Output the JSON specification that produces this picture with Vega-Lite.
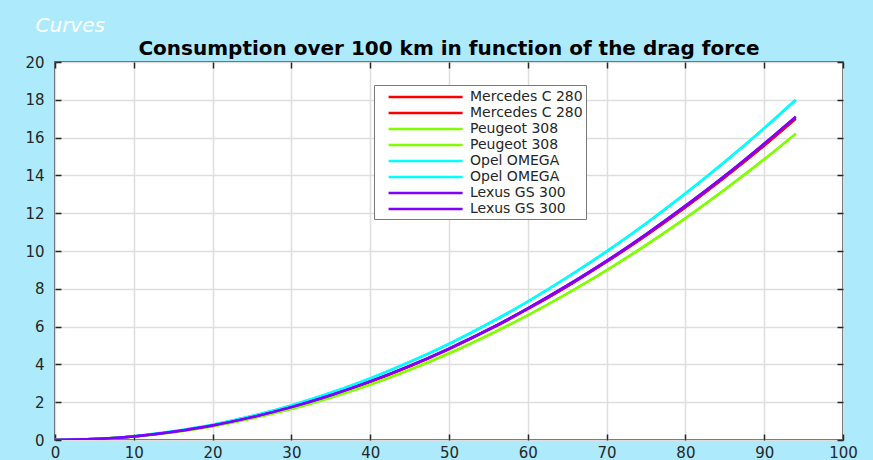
{
  "$schema": "https://vega.github.io/schema/vega-lite/v6.json",
  "width": 788,
  "height": 378,
  "autosize": {"type": "none"},
  "padding": {"left": 55, "top": 62, "right": 30, "bottom": 20},
  "background": "#ADEBFC",
  "title": {
    "text": "Consumption over 100 km in function of the drag force",
    "anchor": "middle",
    "font": "DejaVu Sans",
    "fontSize": 20,
    "fontWeight": "bold",
    "color": "#000000",
    "offset": -44
  },
  "config": {
    "view": {"fill": "#FFFFFF", "stroke": "#262626", "strokeWidth": 1.5},
    "axis": {
      "labelFont": "DejaVu Sans",
      "labelFontSize": 15,
      "labelColor": "#262626",
      "labelFlush": false,
      "domain": false,
      "tickColor": "#262626",
      "tickWidth": 1.5,
      "tickSize": -6,
      "gridColor": "#DEDEDE",
      "gridWidth": 1.5
    }
  },
  "data": {
    "values": [
      {"x": 0, "M1": 0, "M2": 0, "P1": 0, "P2": 0, "O1": 0, "O2": 0, "L1": 0, "L2": 0},
      {"x": 5, "M1": 0.05, "M2": 0.05, "P1": 0.05, "P2": 0.05, "O1": 0.05, "O2": 0.05, "L1": 0.05, "L2": 0.05},
      {"x": 10, "M1": 0.19, "M2": 0.19, "P1": 0.18, "P2": 0.18, "O1": 0.2, "O2": 0.2, "L1": 0.19, "L2": 0.19},
      {"x": 15, "M1": 0.43, "M2": 0.43, "P1": 0.41, "P2": 0.41, "O1": 0.46, "O2": 0.46, "L1": 0.44, "L2": 0.44},
      {"x": 20, "M1": 0.77, "M2": 0.77, "P1": 0.73, "P2": 0.73, "O1": 0.81, "O2": 0.81, "L1": 0.77, "L2": 0.77},
      {"x": 25, "M1": 1.2, "M2": 1.2, "P1": 1.15, "P2": 1.15, "O1": 1.27, "O2": 1.27, "L1": 1.21, "L2": 1.21},
      {"x": 30, "M1": 1.73, "M2": 1.73, "P1": 1.65, "P2": 1.65, "O1": 1.83, "O2": 1.83, "L1": 1.74, "L2": 1.74},
      {"x": 35, "M1": 2.36, "M2": 2.36, "P1": 2.25, "P2": 2.25, "O1": 2.5, "O2": 2.5, "L1": 2.37, "L2": 2.37},
      {"x": 40, "M1": 3.08, "M2": 3.08, "P1": 2.93, "P2": 2.93, "O1": 3.26, "O2": 3.26, "L1": 3.1, "L2": 3.1},
      {"x": 45, "M1": 3.9, "M2": 3.9, "P1": 3.71, "P2": 3.71, "O1": 4.13, "O2": 4.13, "L1": 3.92, "L2": 3.92},
      {"x": 50, "M1": 4.81, "M2": 4.81, "P1": 4.58, "P2": 4.58, "O1": 5.09, "O2": 5.09, "L1": 4.84, "L2": 4.84},
      {"x": 55, "M1": 5.82, "M2": 5.82, "P1": 5.55, "P2": 5.55, "O1": 6.16, "O2": 6.16, "L1": 5.85, "L2": 5.85},
      {"x": 60, "M1": 6.93, "M2": 6.93, "P1": 6.6, "P2": 6.6, "O1": 7.33, "O2": 7.33, "L1": 6.97, "L2": 6.97},
      {"x": 65, "M1": 8.13, "M2": 8.13, "P1": 7.75, "P2": 7.75, "O1": 8.61, "O2": 8.61, "L1": 8.18, "L2": 8.18},
      {"x": 70, "M1": 9.43, "M2": 9.43, "P1": 8.98, "P2": 8.98, "O1": 9.98, "O2": 9.98, "L1": 9.48, "L2": 9.48},
      {"x": 75, "M1": 10.82, "M2": 10.82, "P1": 10.31, "P2": 10.31, "O1": 11.46, "O2": 11.46, "L1": 10.89, "L2": 10.89},
      {"x": 80, "M1": 12.31, "M2": 12.31, "P1": 11.73, "P2": 11.73, "O1": 13.04, "O2": 13.04, "L1": 12.39, "L2": 12.39},
      {"x": 85, "M1": 13.9, "M2": 13.9, "P1": 13.25, "P2": 13.25, "O1": 14.72, "O2": 14.72, "L1": 13.98, "L2": 13.98},
      {"x": 90, "M1": 15.58, "M2": 15.58, "P1": 14.85, "P2": 14.85, "O1": 16.5, "O2": 16.5, "L1": 15.68, "L2": 15.68},
      {"x": 94, "M1": 17.0, "M2": 17.0, "P1": 16.2, "P2": 16.2, "O1": 18.0, "O2": 18.0, "L1": 17.1, "L2": 17.1}
    ]
  },
  "transform": [
    {"fold": ["M1", "M2", "P1", "P2", "O1", "O2", "L1", "L2"], "as": ["series", "y"]}
  ],
  "layer": [
    {
      "mark": {"type": "line", "strokeWidth": 2.5, "interpolate": "monotone", "clip": true},
      "encoding": {
        "x": {
          "field": "x", "type": "quantitative",
          "scale": {"domain": [0, 100], "nice": false},
          "axis": {"values": [0, 10, 20, 30, 40, 50, 60, 70, 80, 90, 100], "title": null, "grid": true, "labelPadding": 11}
        },
        "y": {
          "field": "y", "type": "quantitative",
          "scale": {"domain": [0, 20], "nice": false},
          "axis": {
            "values": [0, 2, 4, 6, 8, 10, 12, 14, 16, 18, 20],
            "grid": true,
            "labelPadding": 17,
            "title": "Curves",
            "titleAngle": 0,
            "titleX": -20,
            "titleY": -37,
            "titleAlign": "left",
            "titleBaseline": "middle",
            "titleFont": "DejaVu Sans",
            "titleFontStyle": "italic",
            "titleFontWeight": "normal",
            "titleFontSize": 20,
            "titleColor": "#FFFFFF"
          }
        },
        "color": {
          "field": "series", "type": "nominal",
          "scale": {
            "domain": ["M1", "M2", "P1", "P2", "O1", "O2", "L1", "L2"],
            "range": ["#FF0000", "#FF0000", "#80FF00", "#80FF00", "#00FFFF", "#00FFFF", "#8000FF", "#8000FF"]
          },
          "legend": {
            "orient": "none",
            "legendX": 319,
            "legendY": 23,
            "title": null,
            "fillColor": "#FFFFFF",
            "strokeColor": "#7A7A7A",
            "padding": 3,
            "symbolOffset": 10,
            "symbolType": "M-1,0H9",
            "symbolSize": 219,
            "symbolStrokeWidth": 2.5,
            "labelOffset": 65,
            "labelFont": "DejaVu Sans",
            "labelFontSize": 14,
            "labelColor": "#262626",
            "rowPadding": 0,
            "labelExpr": "slice(datum.label,0,1)=='M' ? 'Mercedes C 280' : slice(datum.label,0,1)=='P' ? 'Peugeot 308' : slice(datum.label,0,1)=='O' ? 'Opel OMEGA' : 'Lexus GS 300'"
          }
        }
      }
    },
    {
      "mark": {"type": "line", "strokeOpacity": 0},
      "encoding": {
        "x": {
          "field": "x", "type": "quantitative",
          "axis": {"orient": "top", "values": [0, 10, 20, 30, 40, 50, 60, 70, 80, 90, 100], "labels": false, "grid": false, "title": null}
        },
        "y": {
          "field": "y", "type": "quantitative",
          "axis": {"orient": "right", "values": [0, 2, 4, 6, 8, 10, 12, 14, 16, 18, 20], "labels": false, "grid": false, "title": null}
        }
      }
    }
  ],
  "resolve": {"axis": {"x": "independent", "y": "independent"}}
}
